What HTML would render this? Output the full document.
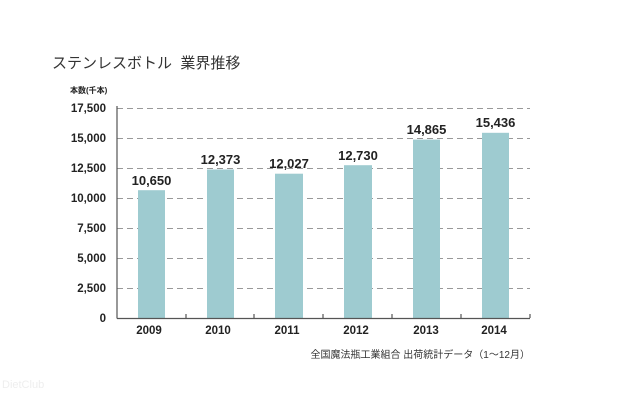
<!DOCTYPE html><html><head><meta charset="utf-8"><style>
body{margin:0;background:#fff;width:640px;height:400px;overflow:hidden}
</style></head><body>
<svg width="640" height="400" xmlns="http://www.w3.org/2000/svg" font-family="Liberation Sans, Noto Sans CJK JP, sans-serif">
<text x="52" y="68" font-size="15" fill="#333">ステンレスボトル&#160;&#160;業界推移</text>
<text x="70" y="93" font-size="8" font-weight="bold" fill="#222">本数(千本)</text>
<g stroke="#999" stroke-dasharray="6,4" stroke-width="1">
<line x1="117" x2="530" y1="108.5" y2="108.5"/><line x1="117" x2="530" y1="138.5" y2="138.5"/>
<line x1="117" x2="530" y1="168.5" y2="168.5"/><line x1="117" x2="530" y1="198.5" y2="198.5"/>
<line x1="117" x2="530" y1="228.5" y2="228.5"/><line x1="117" x2="530" y1="258.5" y2="258.5"/>
<line x1="117" x2="530" y1="288.5" y2="288.5"/>
</g>
<g font-size="11.5" font-weight="bold" fill="#222" text-anchor="end">
<text x="106" y="112">17,500</text><text x="106" y="142">15,000</text><text x="106" y="172">12,500</text>
<text x="106" y="202">10,000</text><text x="106" y="232">7,500</text><text x="106" y="262">5,000</text>
<text x="106" y="292">2,500</text><text x="106" y="322">0</text>
</g>
<g fill="#9ecbd0">
<rect x="138" y="190.2" width="27" height="127.8"/>
<rect x="207" y="169.5" width="27" height="148.5"/>
<rect x="275" y="173.7" width="28" height="144.3"/>
<rect x="344" y="165.2" width="28" height="152.8"/>
<rect x="413" y="139.6" width="27" height="178.4"/>
<rect x="482" y="132.8" width="27" height="185.2"/>
</g>
<g stroke="#555" stroke-width="1.2">
<line x1="117" y1="106" x2="117" y2="318.5"/><line x1="117" y1="318.5" x2="530" y2="318.5"/>
<line x1="186" y1="314" x2="186" y2="318"/><line x1="254" y1="314" x2="254" y2="318"/>
<line x1="323" y1="314" x2="323" y2="318"/><line x1="392" y1="314" x2="392" y2="318"/>
<line x1="461" y1="314" x2="461" y2="318"/><line x1="530" y1="314" x2="530" y2="318"/>
</g>
<g font-size="13" font-weight="bold" fill="#222" text-anchor="middle">
<text x="151.5" y="185">10,650</text><text x="220.5" y="164">12,373</text><text x="289" y="168">12,027</text>
<text x="358" y="160">12,730</text><text x="426.5" y="134">14,865</text><text x="495.5" y="127">15,436</text>
</g>
<g font-size="11.5" font-weight="bold" fill="#222" text-anchor="middle">
<text x="149" y="334">2009</text><text x="218" y="334">2010</text><text x="287" y="334">2011</text>
<text x="356" y="334">2012</text><text x="426" y="334">2013</text><text x="494" y="334">2014</text>
</g>
<text x="530" y="358" font-size="10" fill="#333" text-anchor="end">全国魔法瓶工業組合 出荷統計データ（1～12月）</text>
<text x="2" y="388" font-size="11" fill="#eee">DietClub</text>
</svg>
</body></html>
